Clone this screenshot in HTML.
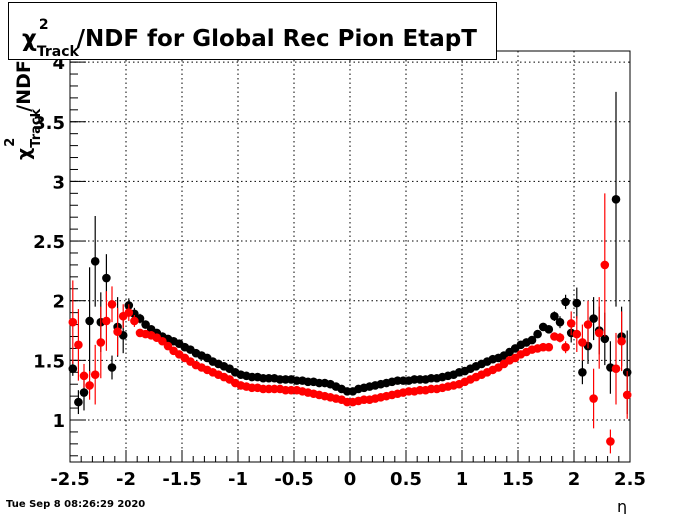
<!DOCTYPE html>
<html><head><meta charset="utf-8"><style>
body{margin:0;background:#fff;width:700px;height:514px;overflow:hidden;font-family:"Liberation Sans","DejaVu Sans",sans-serif}
svg{display:block}
</style></head><body>
<svg id="chart" width="700" height="514" viewBox="0 0 700 514" xmlns="http://www.w3.org/2000/svg">
<rect x="0" y="0" width="700" height="514" fill="#fff"/>
<g id="grid"></g>
<g id="axes"></g>
<g id="series-black"></g>
<g id="series-red"></g>
<g>
<rect x="8.5" y="2.5" width="488" height="57" fill="#fff" stroke="#000" stroke-width="1"/>
<text x="22" y="46" font-size="23" font-weight="bold" font-family="DejaVu Sans, sans-serif">χ<tspan font-size="14" dy="10">Track</tspan><tspan font-size="14" dx="-40" dy="-27">2</tspan><tspan dx="28" dy="17">/NDF for Global Rec Pion EtapT</tspan></text>
</g>
<text transform="translate(30,160) rotate(-90)" font-size="19" font-weight="bold" font-family="DejaVu Sans, sans-serif">χ<tspan font-size="13" dy="10">Track</tspan><tspan font-size="13" dx="-38" dy="-26">2</tspan><tspan dx="26" dy="16">/NDF</tspan></text>
<text x="617" y="512" font-size="16" font-family="DejaVu Sans, sans-serif">η</text>
<text x="6" y="507" font-size="10" font-weight="bold" font-family="DejaVu Sans, sans-serif">Tue Sep  8 08:26:29 2020</text>
</svg>
<script>
const blackVals=[1.43,1.15,1.23,1.83,2.33,1.82,2.19,1.44,1.78,1.71,1.96,1.89,1.85,1.80,1.76,1.73,1.70,1.68,1.66,1.64,1.61,1.59,1.56,1.54,1.52,1.49,1.47,1.45,1.43,1.40,1.38,1.37,1.36,1.36,1.35,1.35,1.35,1.34,1.34,1.34,1.33,1.33,1.32,1.32,1.31,1.31,1.30,1.28,1.26,1.24,1.24,1.26,1.27,1.28,1.29,1.30,1.31,1.32,1.33,1.33,1.33,1.34,1.34,1.34,1.35,1.35,1.36,1.37,1.38,1.40,1.41,1.43,1.45,1.47,1.49,1.51,1.52,1.54,1.57,1.60,1.63,1.65,1.67,1.72,1.78,1.76,1.87,1.82,1.99,1.73,1.98,1.40,1.62,1.85,1.75,1.68,1.44,2.85,1.70,1.40];
const blackErrs=[0.06,0.1,0.15,0.45,0.38,0.25,0.2,0.1,0.25,0.15,0.06,0.05,0.04,0.03,0.02,0.02,0.02,0.02,0.02,0.02,0.02,0.02,0.02,0.02,0.02,0.02,0.02,0.02,0.02,0.02,0.02,0.02,0.02,0.02,0.02,0.02,0.02,0.02,0.02,0.02,0.02,0.02,0.02,0.02,0.02,0.02,0.02,0.02,0.02,0.02,0.02,0.02,0.02,0.02,0.02,0.02,0.02,0.02,0.02,0.02,0.02,0.02,0.02,0.02,0.02,0.02,0.02,0.02,0.02,0.02,0.02,0.02,0.02,0.02,0.02,0.02,0.02,0.02,0.02,0.02,0.02,0.02,0.02,0.02,0.02,0.02,0.04,0.05,0.06,0.08,0.13,0.1,0.15,0.18,0.2,0.22,0.22,0.9,0.25,0.35];
const redVals=[1.82,1.63,1.37,1.29,1.38,1.65,1.83,1.97,1.74,1.87,1.90,1.83,1.73,1.72,1.71,1.69,1.66,1.62,1.58,1.55,1.52,1.49,1.46,1.44,1.42,1.40,1.38,1.36,1.34,1.31,1.29,1.28,1.27,1.27,1.26,1.26,1.26,1.26,1.25,1.25,1.25,1.24,1.23,1.22,1.21,1.20,1.19,1.18,1.17,1.15,1.15,1.16,1.17,1.17,1.18,1.19,1.20,1.21,1.22,1.23,1.24,1.24,1.25,1.25,1.26,1.26,1.27,1.28,1.29,1.30,1.32,1.34,1.36,1.38,1.40,1.42,1.44,1.47,1.50,1.52,1.55,1.57,1.59,1.60,1.61,1.61,1.70,1.69,1.61,1.81,1.72,1.65,1.80,1.18,1.73,2.30,0.82,1.43,1.66,1.21];
const redErrs=[0.35,0.3,0.1,0.12,0.25,0.3,0.25,0.15,0.2,0.1,0.07,0.05,0.03,0.02,0.02,0.02,0.02,0.02,0.02,0.02,0.02,0.02,0.02,0.02,0.02,0.02,0.02,0.02,0.02,0.02,0.02,0.02,0.02,0.02,0.02,0.02,0.02,0.02,0.02,0.02,0.02,0.02,0.02,0.02,0.02,0.02,0.02,0.02,0.02,0.02,0.02,0.02,0.02,0.02,0.02,0.02,0.02,0.02,0.02,0.02,0.02,0.02,0.02,0.02,0.02,0.02,0.02,0.02,0.02,0.02,0.02,0.02,0.02,0.02,0.02,0.02,0.02,0.02,0.02,0.02,0.02,0.02,0.02,0.02,0.02,0.02,0.03,0.04,0.05,0.1,0.15,0.15,0.2,0.25,0.3,0.6,0.1,0.3,0.25,0.2];
const xTicks=[-2.5,-2,-1.5,-1,-0.5,0,0.5,1,1.5,2,2.5];
const xTickLabels=["-2.5","-2","-1.5","-1","-0.5","0","0.5","1","1.5","2","2.5"];
const yTicks=[1,1.5,2,2.5,3,3.5,4];
const yTickLabels=["1","1.5","2","2.5","3","3.5","4"];
const X0=70,X1=630,Y0=462,Y1=51;
const xMin=-2.5,xMax=2.5;
function xs(v){return X0+(v-xMin)/(xMax-xMin)*(X1-X0);}
function ys(v){return 420-(v-1)*119.3;}
const NS="http://www.w3.org/2000/svg";
function mk(tag,attrs,parent){const e=document.createElementNS(NS,tag);for(const k in attrs)e.setAttribute(k,attrs[k]);parent.appendChild(e);return e;}
const grid=document.getElementById('grid'),axes=document.getElementById('axes');
xTicks.forEach((t,i)=>{
  const x=xs(t);
  if(i>0&&i<xTicks.length-1){const l=mk('line',{x1:x,x2:x,y1:Y1,y2:Y0,stroke:'#000','stroke-dasharray':'1.5,3','stroke-width':1},grid);
  
  }
  const tk=mk('line',{x1:x,x2:x,y1:Y0,y2:Y0-12,stroke:'#000','stroke-width':1},axes);
  
  
  const tx=mk('text',{x:x,y:485,'text-anchor':'middle','font-size':18,'font-weight':'bold','font-family':'DejaVu Sans, sans-serif'},axes);
  tx.textContent=xTickLabels[i];
  
  
});
for(let v=-2.5;v<=2.5001;v+=0.1){const x=xs(v);const tk=mk('line',{x1:x,x2:x,y1:Y0,y2:Y0-6,stroke:'#000'},axes);

}
yTicks.forEach((t,i)=>{
  const y=ys(t);
  const l=mk('line',{x1:X0,x2:X1,y1:y,y2:y,stroke:'#000','stroke-dasharray':'1.5,3','stroke-width':1},grid);
  
  
  const tk=mk('line',{x1:X0,x2:X0+16,y1:y,y2:y,stroke:'#000'},axes);
  
  
  const tx=mk('text',{x:65,y:y+7,'text-anchor':'end','font-size':18,'font-weight':'bold','font-family':'DejaVu Sans, sans-serif'},axes);
  tx.textContent=yTickLabels[i];
  
  
});
for(let v=0.7;v<=4.1;v+=0.1){const y=ys(v);if(y<Y1||y>Y0)continue;const tk=mk('line',{x1:X0,x2:X0+8,y1:y,y2:y,stroke:'#000'},axes);

}
const fr=mk('rect',{x:X0,y:Y1,width:X1-X0,height:Y0-Y1,fill:'none',stroke:'#000','stroke-width':1},axes);


function drawSeries(g,vals,errs,color,name){
  vals.forEach((v,i)=>{
    const c=-2.475+0.05*i;const x=xs(c);
    const e=mk('line',{x1:x,x2:x,y1:ys(v-errs[i]),y2:ys(v+errs[i]),stroke:color,'stroke-width':1.2},g);
    
    
    const p=mk('circle',{cx:x,cy:ys(v),r:4.3,fill:color},g);
    
    
  });
}
drawSeries(document.getElementById('series-black'),blackVals,blackErrs,'#000','black');
drawSeries(document.getElementById('series-red'),redVals,redErrs,'#ff0000','red');
</script>
</body></html>
